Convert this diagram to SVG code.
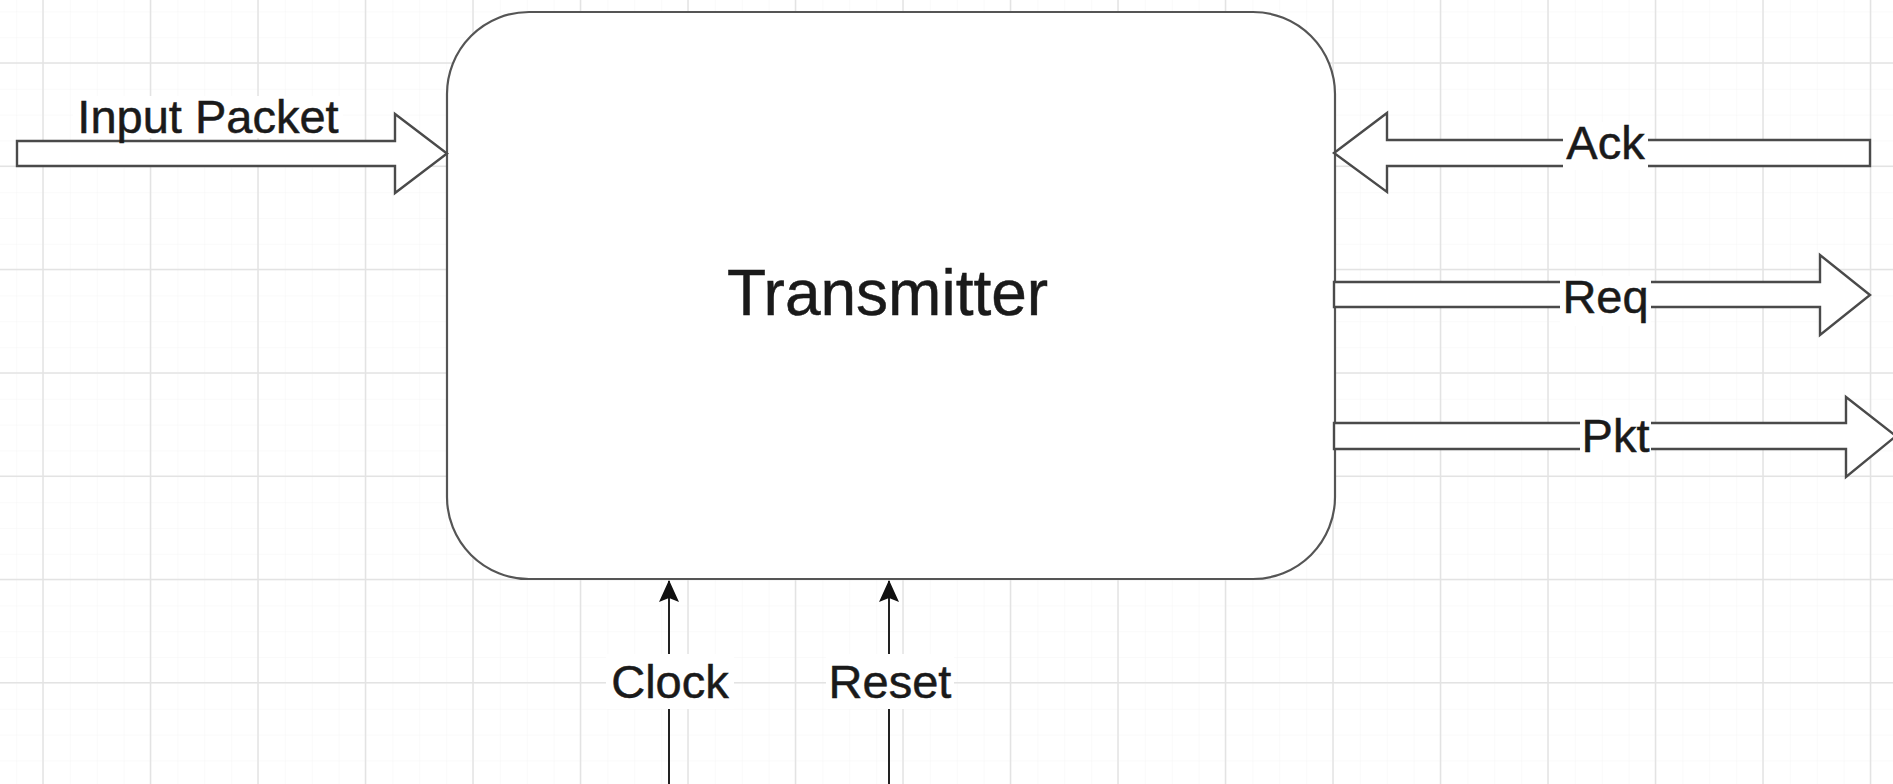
<svg xmlns="http://www.w3.org/2000/svg" width="1893" height="784" viewBox="0 0 1893 784">
<defs>
<style>
.minor{stroke:#f5f5f5;stroke-width:1}
.major{stroke:#e3e3e3;stroke-width:1.5}
.flex{fill:#ffffff;stroke:#4a4a4a;stroke-width:2.4;stroke-linejoin:miter}
.lbl{font-family:"Liberation Sans",Arial,sans-serif;font-size:47px;fill:#1a1a1a;stroke:#1a1a1a;stroke-width:0.5;text-anchor:middle}
.bg{fill:#ffffff}
.wire{stroke:#222222;stroke-width:2;fill:none}
</style>
<marker id="tri" markerWidth="22" markerHeight="22" refX="21" refY="11" orient="auto" markerUnits="userSpaceOnUse">
<path d="M0,1 L22,11 L0,21 L4,11 Z" fill="#111111"/>
</marker>
<pattern id="minorgrid" x="43" y="63" width="26.875" height="25.83" patternUnits="userSpaceOnUse">
<path d="M0,0 V25.83 M0,0 H26.875" class="minor"/>
</pattern>
</defs>
<rect width="1893" height="784" fill="#ffffff"/>
<rect width="1893" height="784" fill="url(#minorgrid)"/>
<g id="grid">
<path class="major" d="M43,0V784 M150.5,0V784 M258,0V784 M365.5,0V784 M473,0V784 M580.5,0V784 M688,0V784 M795.5,0V784 M903,0V784 M1010.5,0V784 M1118,0V784 M1225.5,0V784 M1333,0V784 M1440.5,0V784 M1548,0V784 M1655.5,0V784 M1763,0V784 M1870.5,0V784"/>
<path class="major" d="M0,63H1893 M0,166.3H1893 M0,269.6H1893 M0,373H1893 M0,476.2H1893 M0,579.5H1893 M0,682.8H1893"/>
</g>
<g id="transmitter">
<rect x="447" y="12" width="888" height="567" rx="82" ry="82" fill="#ffffff" stroke="#555555" stroke-width="2.2"/>
<text class="lbl" x="887.5" y="315" style="font-size:64px">Transmitter</text>
</g>
<g id="connectors">
<g id="input-packet">
<path class="flex" d="M17,141 H395 V114 L447,153.5 L395,193 V166 H17 Z"/>
<rect class="bg" x="73" y="96" width="270" height="42"/>
<text class="lbl" x="208" y="133">Input Packet</text>
</g>
<g id="ack">
<path class="flex" d="M1870,140 H1387 V113 L1334,153 L1387,192 V166 H1870 Z"/>
<rect class="bg" x="1563" y="122" width="85" height="48"/>
<text class="lbl" x="1605.5" y="159">Ack</text>
</g>
<g id="req">
<path class="flex" d="M1334,282 H1820 V255 L1870,295 L1820,335 V307 H1334 Z"/>
<rect class="bg" x="1560" y="276" width="91" height="50"/>
<text class="lbl" x="1605.5" y="313">Req</text>
</g>
<g id="pkt">
<path class="flex" d="M1334,423 H1846 V397 L1896,436 L1846,477 V449 H1334 Z"/>
<rect class="bg" x="1580" y="416" width="71" height="44"/>
<text class="lbl" x="1615.5" y="452">Pkt</text>
</g>
<g id="clock">
<path class="wire" d="M669,784 V581" marker-end="url(#tri)"/>
<rect class="bg" x="606" y="654" width="128" height="55"/>
<text class="lbl" x="670" y="698">Clock</text>
</g>
<g id="reset">
<path class="wire" d="M889,784 V581" marker-end="url(#tri)"/>
<rect class="bg" x="826" y="654" width="128" height="55"/>
<text class="lbl" x="890" y="698">Reset</text>
</g>
</g>
</svg>
